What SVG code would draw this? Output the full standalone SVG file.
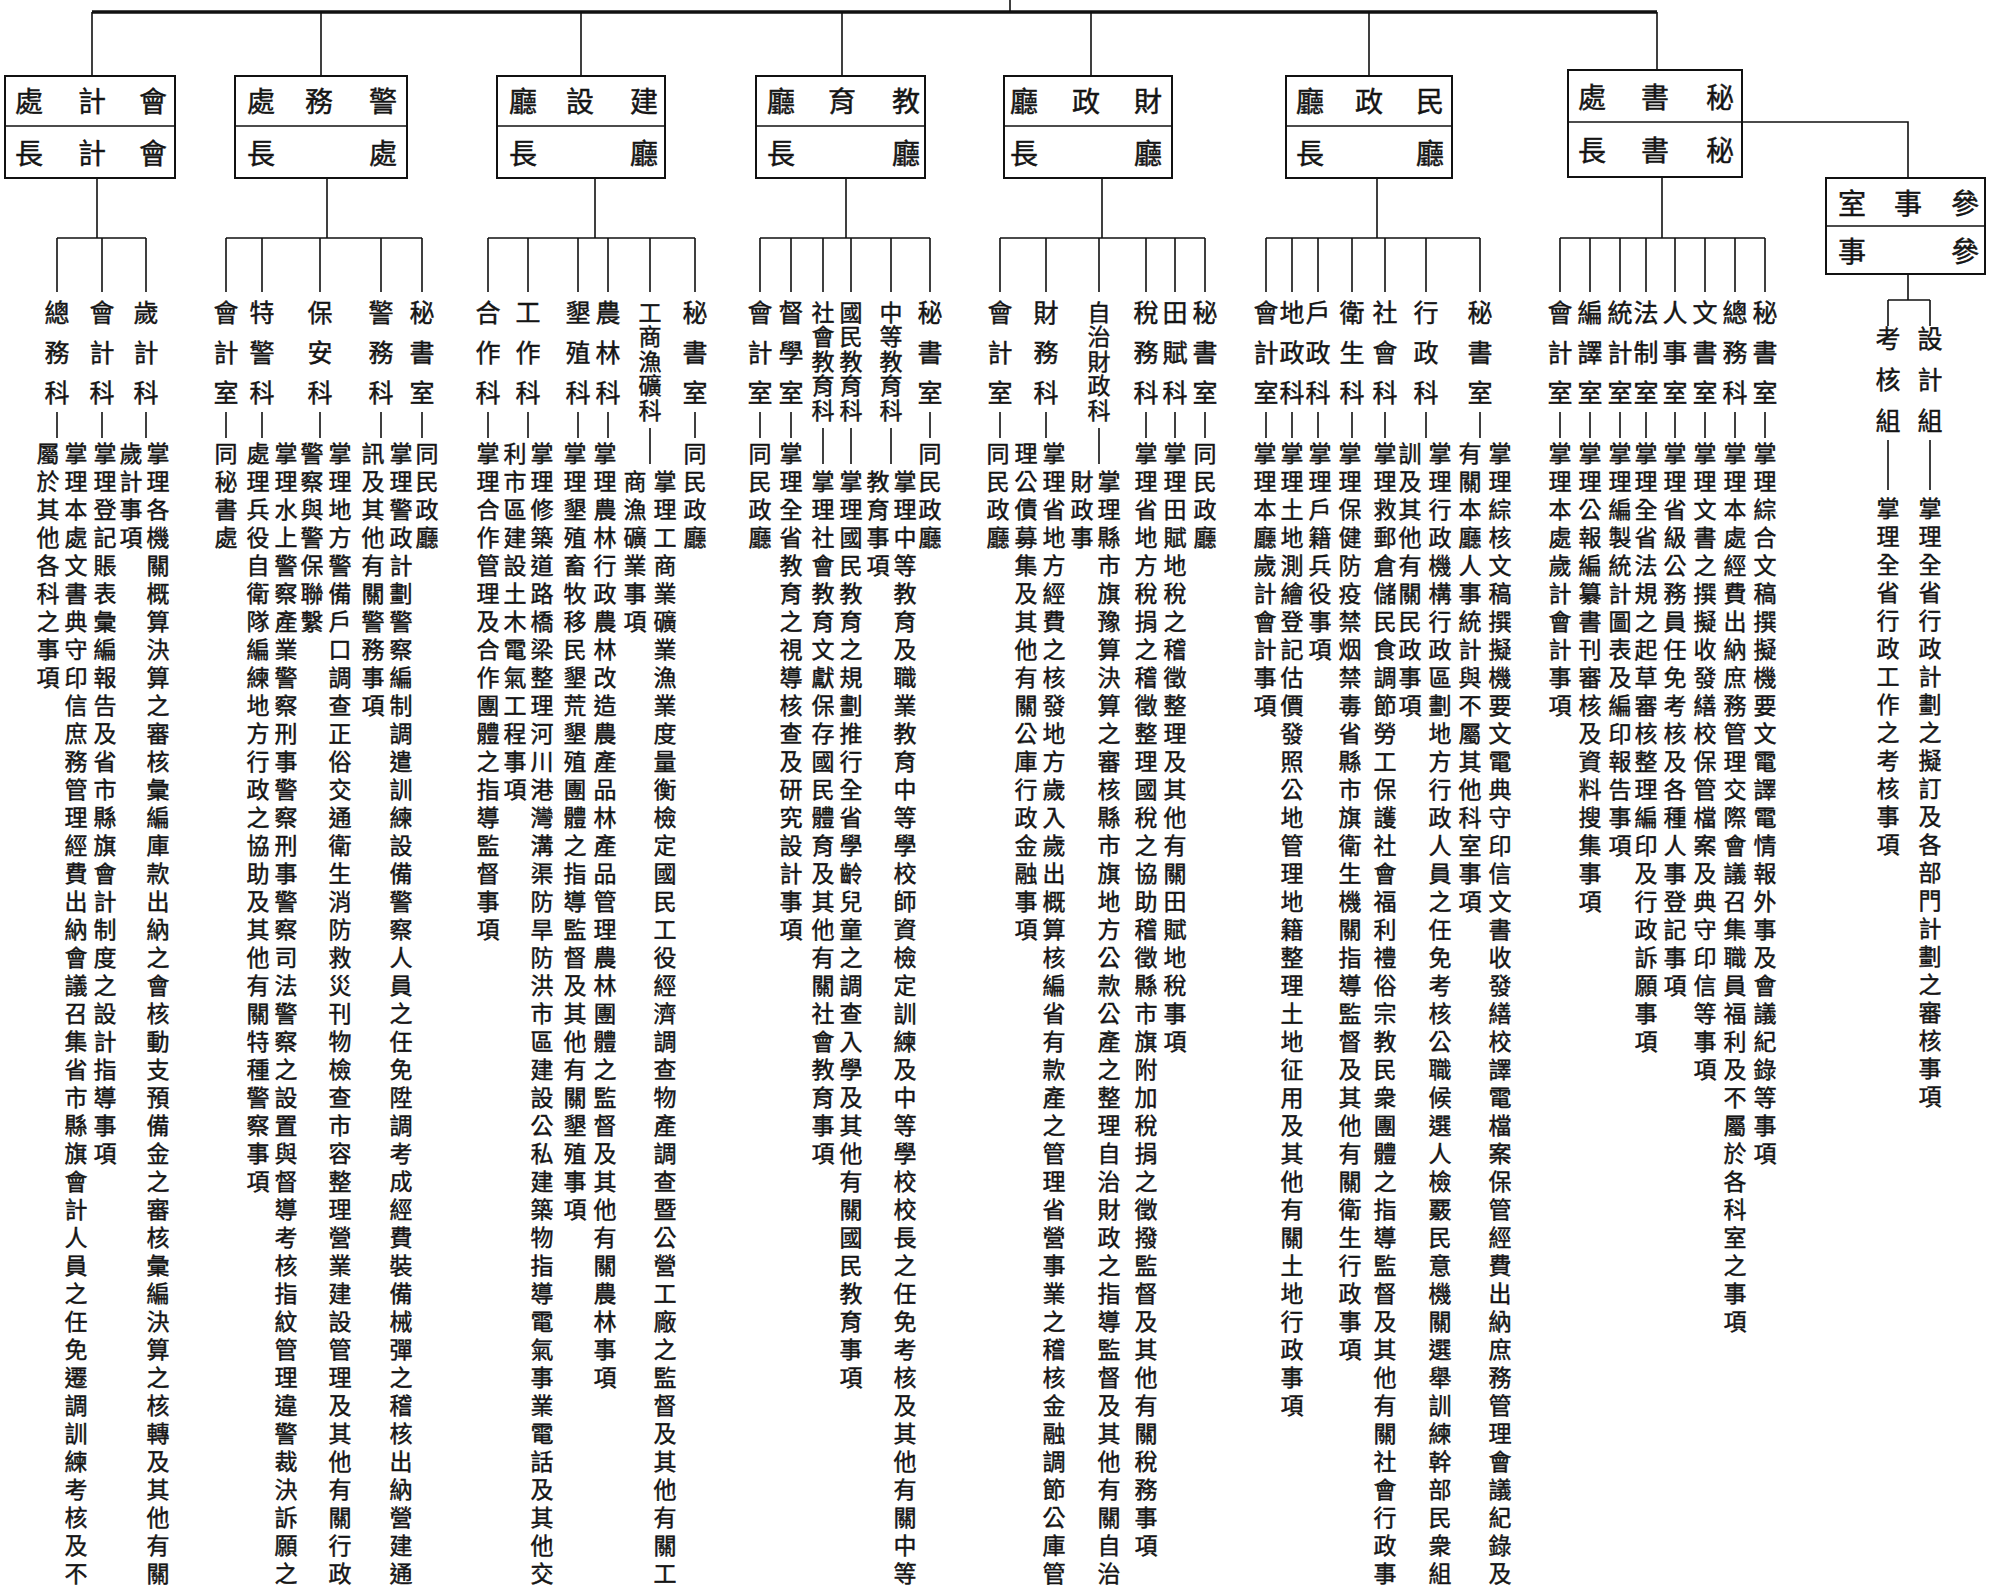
<svg xmlns="http://www.w3.org/2000/svg" width="1993" height="1593" viewBox="0 0 1993 1593">
<style>
text{font-family:"Noto Sans CJK TC","Noto Sans CJK SC","Noto Sans CJK JP",sans-serif;fill:#151515;stroke:#151515;stroke-width:0.45}
.h{font-size:28px;text-anchor:middle;dominant-baseline:central}
.v{writing-mode:vertical-rl;font-size:23px;letter-spacing:5px}
.l3{writing-mode:vertical-rl;font-size:25px;letter-spacing:15px}
.l5{writing-mode:vertical-rl;font-size:23px;letter-spacing:1.5px}
.l8{writing-mode:vertical-rl;font-size:25px;letter-spacing:16px}
.box{fill:#fff;stroke:#111;stroke-width:2}
.ln{stroke:#111;stroke-width:1.6;fill:none}
.top{stroke:#111;stroke-width:3.5;fill:none}
</style>
<rect width="1993" height="1593" fill="#fff"/>
<g id="connectors">
<path class="top" d="M92 12H1657"/>
<path class="ln" d="M1010 0V12M92 12V76M321 12V76M581 12V76M842 12V76M1091 12V76M1369 12V76M1657 12V70"/>
<path class="ln" d="M97 178V238M327 178V238M595 178V238M846 178V238M1102 178V238M1377 178V238M1662 177V238"/>
<path class="ln" d="M57 238H146M226 238H422M488 238H695M760 238H930M1000 238H1205M1266 238H1480M1560 238H1765"/>
<path class="ln" d="M57 238V292M102 238V292M146 238V292M226 238V292M262 238V292M320 238V292M381 238V292M422 238V292M488 238V292M528 238V292M578 238V292M608 238V292M650 238V292M695 238V292M760 238V292M791 238V292M823 238V292M851 238V292M891 238V292M930 238V292M1000 238V292M1046 238V292M1099 238V292M1146 238V292M1175 238V292M1205 238V292M1266 238V292M1292 238V292M1318 238V292M1352 238V292M1385 238V292M1426 238V292M1480 238V292M1560 238V292M1590 238V292M1620 238V292M1646 238V292M1675 238V292M1705 238V292M1735 238V292M1765 238V292"/>
<path class="ln" d="M57 412V438M102 412V438M146 412V438M226 412V438M262 412V438M320 412V438M381 412V438M422 412V438M488 412V438M528 412V438M578 412V438M608 412V438M695 412V438M760 412V438M791 412V438M930 412V438M1000 412V438M1046 412V438M1146 412V438M1175 412V438M1205 412V438M1266 412V438M1292 412V438M1318 412V438M1352 412V438M1385 412V438M1426 412V438M1480 412V438M1560 412V438M1590 412V438M1620 412V438M1646 412V438M1675 412V438M1705 412V438M1735 412V438M1765 412V438"/>
<path class="ln" d="M650 428V464M823 428V464M851 428V464M891 428V464M1099 428V464"/>
<path class="ln" d="M1742 122H1908V178M1908 274V300M1888 300H1930M1888 300V326M1930 300V326M1888 440V490M1930 440V490"/>
</g>
<g id="n-kuaiji-chu"><rect class="box" x="5" y="76" width="170" height="102"/><path class="ln" d="M5 126H175"/><text class="h" x="153 92 29" y="100">會計處</text><text class="h" x="153 92 29" y="152">會計長</text></g>
<g id="n-jingwu-chu"><rect class="box" x="235" y="76" width="172" height="102"/><path class="ln" d="M235 126H407"/><text class="h" x="383 319 261" y="100">警務處</text><text class="h" x="383 261" y="152">處長</text></g>
<g id="n-jianshe-ting"><rect class="box" x="497" y="76" width="168" height="102"/><path class="ln" d="M497 126H665"/><text class="h" x="644 580 523" y="100">建設廳</text><text class="h" x="644 523" y="152">廳長</text></g>
<g id="n-jiaoyu-ting"><rect class="box" x="756" y="76" width="169" height="102"/><path class="ln" d="M756 126H925"/><text class="h" x="906 842 781" y="100">教育廳</text><text class="h" x="906 781" y="152">廳長</text></g>
<g id="n-caizheng-ting"><rect class="box" x="1004" y="76" width="168" height="102"/><path class="ln" d="M1004 126H1172"/><text class="h" x="1148 1086 1024" y="100">財政廳</text><text class="h" x="1148 1024" y="152">廳長</text></g>
<g id="n-minzheng-ting"><rect class="box" x="1286" y="76" width="166" height="102"/><path class="ln" d="M1286 126H1452"/><text class="h" x="1430 1369 1310" y="100">民政廳</text><text class="h" x="1430 1310" y="152">廳長</text></g>
<g id="n-mishu-chu"><rect class="box" x="1568" y="70" width="174" height="107"/><path class="ln" d="M1568 122H1742"/><text class="h" x="1720 1655 1592" y="96">秘書處</text><text class="h" x="1720 1655 1592" y="149">秘書長</text></g>
<g id="n-canshi-shi"><rect class="box" x="1826" y="178" width="159" height="96"/><path class="ln" d="M1826 226H1985"/><text class="h" x="1965 1908 1852" y="202">參事室</text><text class="h" x="1965 1852" y="250">參事</text></g>

<g id="u1-suiji"><text class="l3" x="146" y="299.5">歲計科</text><text class="v" x="158" y="441.5">掌理各機關概算決算之審核彙編庫款出納之會核動支預備金之審核彙編決算之核轉及其他有關</text><text class="v" x="131" y="441.5">歲計事項</text></g>
<g id="u1-kuaiji"><text class="l3" x="102" y="299.5">會計科</text><text class="v" x="105" y="441.5">掌理登記賬表彙編報告及省市縣旗會計制度之設計指導事項</text></g>
<g id="u1-zongwu"><text class="l3" x="57" y="299.5">總務科</text><text class="v" x="76" y="441.5">掌理本處文書典守印信庶務管理經費出納會議召集省市縣旗會計人員之任免遷調訓練考核及不</text><text class="v" x="48" y="441.5">屬於其他各科之事項</text></g>

<g id="u2-mishu"><text class="l3" x="422" y="299.5">秘書室</text><text class="v" x="427" y="441.5">同民政廳</text></g>
<g id="u2-jingwu"><text class="l3" x="381" y="299.5">警務科</text><text class="v" x="401" y="441.5">掌理警政計劃警察編制調遣訓練設備警察人員之任免陞調考成經費裝備械彈之稽核出納營建通</text><text class="v" x="373" y="441.5">訊及其他有關警務事項</text></g>
<g id="u2-baoan"><text class="l3" x="320" y="299.5">保安科</text><text class="v" x="340" y="441.5">掌理地方警備戶口調查正俗交通衛生消防救災刊物檢查市容整理營業建設管理及其他有關行政</text><text class="v" x="312" y="441.5">警察與警保聯繫</text></g>
<g id="u2-tejing"><text class="l3" x="262" y="299.5">特警科</text><text class="v" x="286" y="441.5">掌理水上警察產業警察刑事警察刑事警察司法警察之設置與督導考核指紋管理違警裁決訴願之</text><text class="v" x="258" y="441.5">處理兵役自衛隊編練地方行政之協助及其他有關特種警察事項</text></g>
<g id="u2-kuaiji"><text class="l3" x="226" y="299.5">會計室</text><text class="v" x="226" y="441.5">同秘書處</text></g>

<g id="u3-mishu"><text class="l3" x="695" y="299.5">秘書室</text><text class="v" x="695" y="441.5">同民政廳</text></g>
<g id="u3-gongshang"><text class="l5" x="650" y="300.5">工商漁礦科</text><text class="v" x="665" y="469.5">掌理工商業礦業漁業度量衡檢定國民工役經濟調查物產調查暨公營工廠之監督及其他有關工</text><text class="v" x="635" y="469.5">商漁礦業事項</text></g>
<g id="u3-nonglin"><text class="l3" x="608" y="299.5">農林科</text><text class="v" x="605" y="441.5">掌理農林行政農林改造農產品林產品管理農林團體之監督及其他有關農林事項</text></g>
<g id="u3-kenzhi"><text class="l3" x="578" y="299.5">墾殖科</text><text class="v" x="575" y="441.5">掌理墾殖畜牧移民墾荒墾殖團體之指導監督及其他有關墾殖事項</text></g>
<g id="u3-gongzuo"><text class="l3" x="528" y="299.5">工作科</text><text class="v" x="542" y="441.5">掌理修築道路橋梁整理河川港灣溝渠防旱防洪市區建設公私建築物指導電氣事業電話及其他交</text><text class="v" x="515" y="441.5">利市區建設土木電氣工程事項</text></g>
<g id="u3-hezuo"><text class="l3" x="488" y="299.5">合作科</text><text class="v" x="488" y="441.5">掌理合作管理及合作團體之指導監督事項</text></g>

<g id="u4-mishu"><text class="l3" x="930" y="299.5">秘書室</text><text class="v" x="930" y="441.5">同民政廳</text></g>
<g id="u4-zhongdeng"><text class="l5" x="891" y="300.5">中等教育科</text><text class="v" x="905" y="469.5">掌理中等教育及職業教育中等學校師資檢定訓練及中等學校校長之任免考核及其他有關中等</text><text class="v" x="878" y="469.5">教育事項</text></g>
<g id="u4-guomin"><text class="l5" x="851" y="300.5">國民教育科</text><text class="v" x="851" y="469.5">掌理國民教育之規劃推行全省學齡兒童之調查入學及其他有關國民教育事項</text></g>
<g id="u4-shehui"><text class="l5" x="823" y="300.5">社會教育科</text><text class="v" x="823" y="469.5">掌理社會教育文獻保存國民體育及其他有關社會教育事項</text></g>
<g id="u4-duxue"><text class="l3" x="791" y="299.5">督學室</text><text class="v" x="791" y="441.5">掌理全省教育之視導核查及研究設計事項</text></g>
<g id="u4-kuaiji"><text class="l3" x="760" y="299.5">會計室</text><text class="v" x="760" y="441.5">同民政廳</text></g>

<g id="u5-mishu"><text class="l3" x="1205" y="299.5">秘書室</text><text class="v" x="1205" y="441.5">同民政廳</text></g>
<g id="u5-tianfu"><text class="l3" x="1175" y="299.5">田賦科</text><text class="v" x="1175" y="441.5">掌理田賦地稅之稽徵整理及其他有關田賦地稅事項</text></g>
<g id="u5-shuiwu"><text class="l3" x="1146" y="299.5">稅務科</text><text class="v" x="1146" y="441.5">掌理省地方稅捐之稽徵整理國稅之協助稽徵縣市旗附加稅捐之徵撥監督及其他有關稅務事項</text></g>
<g id="u5-zizhi"><text class="l5" x="1099" y="300.5">自治財政科</text><text class="v" x="1109" y="469.5">掌理縣市旗豫算決算之審核縣市旗地方公款公產之整理自治財政之指導監督及其他有關自治</text><text class="v" x="1082" y="469.5">財政事</text></g>
<g id="u5-caiwu"><text class="l3" x="1046" y="299.5">財務科</text><text class="v" x="1054" y="441.5">掌理省地方經費之核發地方歲入歲出概算核編省有款產之管理省營事業之稽核金融調節公庫管</text><text class="v" x="1026" y="441.5">理公債募集及其他有關公庫行政金融事項</text></g>
<g id="u5-kuaiji"><text class="l3" x="1000" y="299.5">會計室</text><text class="v" x="998" y="441.5">同民政廳</text></g>

<g id="u6-mishu"><text class="l3" x="1480" y="299.5">秘書室</text><text class="v" x="1500" y="441.5">掌理綜核文稿撰擬機要文電典守印信文書收發繕校譯電檔案保管經費出納庶務管理會議紀錄及</text><text class="v" x="1470" y="441.5">有關本廳人事統計與不屬其他科室事項</text></g>
<g id="u6-xingzheng"><text class="l3" x="1426" y="299.5">行政科</text><text class="v" x="1440" y="441.5">掌理行政機構行政區劃地方行政人員之任免考核公職候選人檢覈民意機關選舉訓練幹部民衆組</text><text class="v" x="1410" y="441.5">訓及其他有關民政事項</text></g>
<g id="u6-shehui"><text class="l3" x="1385" y="299.5">社會科</text><text class="v" x="1385" y="441.5">掌理救郵倉儲民食調節勞工保護社會福利禮俗宗教民衆團體之指導監督及其他有關社會行政事</text></g>
<g id="u6-weisheng"><text class="l3" x="1352" y="299.5">衛生科</text><text class="v" x="1350" y="441.5">掌理保健防疫禁烟禁毒省縣市旗衛生機關指導監督及其他有關衛生行政事項</text></g>
<g id="u6-huzheng"><text class="l3" x="1318" y="299.5">戶政科</text><text class="v" x="1320" y="441.5">掌理戶籍兵役事項</text></g>
<g id="u6-dizheng"><text class="l3" x="1292" y="299.5">地政科</text><text class="v" x="1292" y="441.5">掌理土地測繪登記估價發照公地管理地籍整理土地征用及其他有關土地行政事項</text></g>
<g id="u6-kuaiji"><text class="l3" x="1266" y="299.5">會計室</text><text class="v" x="1265" y="441.5">掌理本廳歲計會計事項</text></g>

<g id="u7-mishu"><text class="l3" x="1765" y="299.5">秘書室</text><text class="v" x="1765" y="441.5">掌理綜合文稿撰擬機要文電譯電情報外事及會議紀錄等事項</text></g>
<g id="u7-zongwu"><text class="l3" x="1735" y="299.5">總務科</text><text class="v" x="1735" y="441.5">掌理本處經費出納庶務管理交際會議召集職員福利及不屬於各科室之事項</text></g>
<g id="u7-wenshu"><text class="l3" x="1705" y="299.5">文書室</text><text class="v" x="1705" y="441.5">掌理文書之撰擬收發繕校保管檔案及典守印信等事項</text></g>
<g id="u7-renshi"><text class="l3" x="1675" y="299.5">人事室</text><text class="v" x="1675" y="441.5">掌理省級公務員任免考核及各種人事登記事項</text></g>
<g id="u7-fazhi"><text class="l3" x="1646" y="299.5">法制室</text><text class="v" x="1646" y="441.5">掌理全省法規之起草審核整理編印及行政訴願事項</text></g>
<g id="u7-tongji"><text class="l3" x="1620" y="299.5">統計室</text><text class="v" x="1620" y="441.5">掌理編製統計圖表及編印報告事項</text></g>
<g id="u7-bianyi"><text class="l3" x="1590" y="299.5">編譯室</text><text class="v" x="1590" y="441.5">掌理公報編纂書刊審核及資料搜集事項</text></g>
<g id="u7-kuaiji"><text class="l3" x="1560" y="299.5">會計室</text><text class="v" x="1560" y="441.5">掌理本處歲計會計事項</text></g>

<g id="u8-sheji"><text class="l8" x="1930" y="325.5">設計組</text><text class="v" x="1930" y="496.5">掌理全省行政計劃之擬訂及各部門計劃之審核事項</text></g>
<g id="u8-kaohe"><text class="l8" x="1888" y="325.5">考核組</text><text class="v" x="1888" y="496.5">掌理全省行政工作之考核事項</text></g>
</svg>
